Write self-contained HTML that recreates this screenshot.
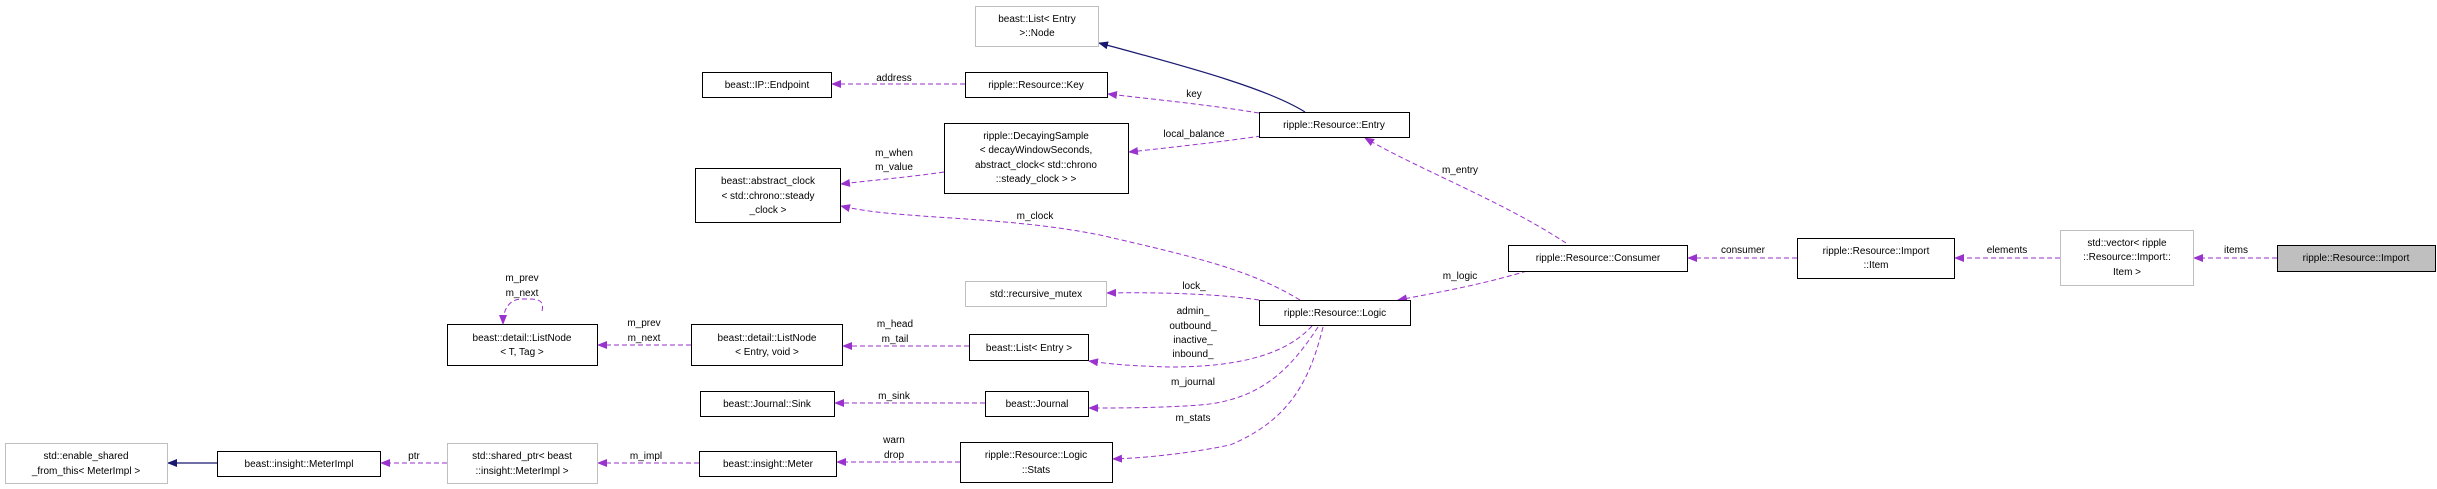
<!DOCTYPE html>
<html><head><meta charset="utf-8"><style>html,body{margin:0;padding:0;background:#fff}svg{display:block}text{font-family:"Liberation Sans",sans-serif;font-size:10px;fill:#000}</style></head><body>
<svg width="2437" height="489" viewBox="0 0 2437 489" xmlns="http://www.w3.org/2000/svg">
<defs>
<marker id="p" markerWidth="10" markerHeight="8" refX="9" refY="4" orient="auto" markerUnits="userSpaceOnUse"><path d="M0,0 L10,4 L0,8 z" fill="#9a32cd"/></marker>
<marker id="n" markerWidth="10" markerHeight="8" refX="9" refY="4" orient="auto" markerUnits="userSpaceOnUse"><path d="M0,0 L10,4 L0,8 z" fill="#191970"/></marker>
</defs>
<g fill="none" stroke="#9a32cd" stroke-dasharray="5,3" stroke-width="1" marker-end="url(#p)">
<path d="M965,84 L832,84"/>
<path d="M1259,113 C1210,105 1160,100 1108,94"/>
<path d="M1261,136 C1220,142 1175,147 1129,152"/>
<path d="M944,172 C910,177 875,180 841,184"/>
<path d="M1300,300 C1250,270 1200,258 1100,235 C1000,215 900,220 841,206"/>
<path d="M1566,243 C1500,200 1420,170 1365,138"/>
<path d="M1527,271 C1480,285 1440,292 1398,300"/>
<path d="M1259,300 C1220,294 1160,292 1107,293"/>
<path d="M1312,326 C1290,350 1250,367 1170,367 C1130,366 1110,364 1089,361"/>
<path d="M1318,327 C1290,370 1260,400 1200,405 C1160,408 1120,408 1089,408"/>
<path d="M1323,327 C1310,380 1290,420 1230,445 C1180,455 1140,458 1113,459"/>
<path d="M969,346 L843,346"/>
<path d="M985,403 L835,403"/>
<path d="M960,462 L837,462"/>
<path d="M699,463 L598,463"/>
<path d="M447,463 L381,463"/>
<path d="M691,345 L598,345"/>
<path d="M542,311 C545,298 535,299 522,299 C510,299 503,308 503,324"/>
<path d="M1797,258 L1688,258"/>
<path d="M2060,258 L1955,258"/>
<path d="M2277,258 L2194,258"/>
</g>
<g fill="none" stroke="#191970" stroke-width="1.2" marker-end="url(#n)">
<path d="M1305,112 C1270,90 1200,70 1099,43"/>
<path d="M217,463 L168,463"/>
</g>
<g stroke="#000" stroke-width="1" fill="#fff">
<rect x="702.5" y="72.5" width="129" height="25"/>
<rect x="695.5" y="168.5" width="145" height="54"/>
<rect x="447.5" y="324.5" width="150" height="41"/>
<rect x="691.5" y="324.5" width="151" height="41"/>
<rect x="700.5" y="391.5" width="134" height="25"/>
<rect x="217.5" y="451.5" width="163" height="25"/>
<rect x="699.5" y="451.5" width="137" height="25"/>
<rect x="965.5" y="72.5" width="142" height="25"/>
<rect x="1259.5" y="112.5" width="150" height="25"/>
<rect x="944.5" y="123.5" width="184" height="70"/>
<rect x="1508.5" y="245.5" width="179" height="26"/>
<rect x="1259.5" y="300.5" width="151" height="25"/>
<rect x="969.5" y="334.5" width="119" height="26"/>
<rect x="985.5" y="391.5" width="103" height="25"/>
<rect x="960.5" y="442.5" width="152" height="40"/>
<rect x="1797.5" y="238.5" width="157" height="40"/>
<rect x="2277.5" y="245.5" width="158" height="26" fill="#bfbfbf"/>
</g>
<g stroke="#bfbfbf" stroke-width="1" fill="#fff">
<rect x="5.5" y="443.5" width="162" height="40"/>
<rect x="447.5" y="443.5" width="150" height="40"/>
<rect x="975.5" y="6.5" width="123" height="40"/>
<rect x="965.5" y="281.5" width="141" height="25"/>
<rect x="2060.5" y="230.5" width="133" height="55"/>
</g>
<g text-anchor="middle">
<text x="767" y="88">beast::IP::Endpoint</text>
<text x="768" y="184">beast::abstract_clock</text><text x="768" y="199">&lt; std::chrono::steady</text><text x="768" y="213">_clock &gt;</text>
<text x="522" y="341">beast::detail::ListNode</text><text x="522" y="355">&lt; T, Tag &gt;</text>
<text x="767" y="341">beast::detail::ListNode</text><text x="767" y="355">&lt; Entry, void &gt;</text>
<text x="767" y="407">beast::Journal::Sink</text>
<text x="86" y="459">std::enable_shared</text><text x="86" y="474">_from_this&lt; MeterImpl &gt;</text>
<text x="299" y="467">beast::insight::MeterImpl</text>
<text x="522" y="459">std::shared_ptr&lt; beast</text><text x="522" y="474">::insight::MeterImpl &gt;</text>
<text x="768" y="467">beast::insight::Meter</text>
<text x="1037" y="22">beast::List&lt; Entry</text><text x="1037" y="36">&gt;::Node</text>
<text x="1036" y="88">ripple::Resource::Key</text>
<text x="1334" y="128">ripple::Resource::Entry</text>
<text x="1036" y="139">ripple::DecayingSample</text><text x="1036" y="153">&lt; decayWindowSeconds,</text><text x="1036" y="168">abstract_clock&lt; std::chrono</text><text x="1036" y="182">::steady_clock &gt; &gt;</text>
<text x="1598" y="261">ripple::Resource::Consumer</text>
<text x="1036" y="297">std::recursive_mutex</text>
<text x="1335" y="316">ripple::Resource::Logic</text>
<text x="1029" y="351">beast::List&lt; Entry &gt;</text>
<text x="1037" y="407">beast::Journal</text>
<text x="1036" y="458">ripple::Resource::Logic</text><text x="1036" y="473">::Stats</text>
<text x="1876" y="254">ripple::Resource::Import</text><text x="1876" y="268">::Item</text>
<text x="2127" y="246">std::vector&lt; ripple</text><text x="2127" y="260">::Resource::Import::</text><text x="2127" y="275">Item &gt;</text>
<text x="2356" y="261">ripple::Resource::Import</text>
<text x="414" y="459">ptr</text>
<text x="646" y="459">m_impl</text>
<text x="522" y="281">m_prev</text><text x="522" y="296">m_next</text>
<text x="644" y="326">m_prev</text><text x="644" y="341">m_next</text>
<text x="894" y="81">address</text>
<text x="1194" y="97">key</text>
<text x="1194" y="137">local_balance</text>
<text x="894" y="156">m_when</text><text x="894" y="170">m_value</text>
<text x="1035" y="219">m_clock</text>
<text x="1460" y="173">m_entry</text>
<text x="1460" y="279">m_logic</text>
<text x="1194" y="289">lock_</text>
<text x="1193" y="314">admin_</text><text x="1193" y="329">outbound_</text><text x="1193" y="343">inactive_</text><text x="1193" y="357">inbound_</text>
<text x="1193" y="385">m_journal</text>
<text x="1193" y="421">m_stats</text>
<text x="895" y="327">m_head</text><text x="895" y="342">m_tail</text>
<text x="894" y="399">m_sink</text>
<text x="894" y="443">warn</text><text x="894" y="458">drop</text>
<text x="1743" y="253">consumer</text>
<text x="2007" y="253">elements</text>
<text x="2236" y="253">items</text>
</g>
</svg>
</body></html>
